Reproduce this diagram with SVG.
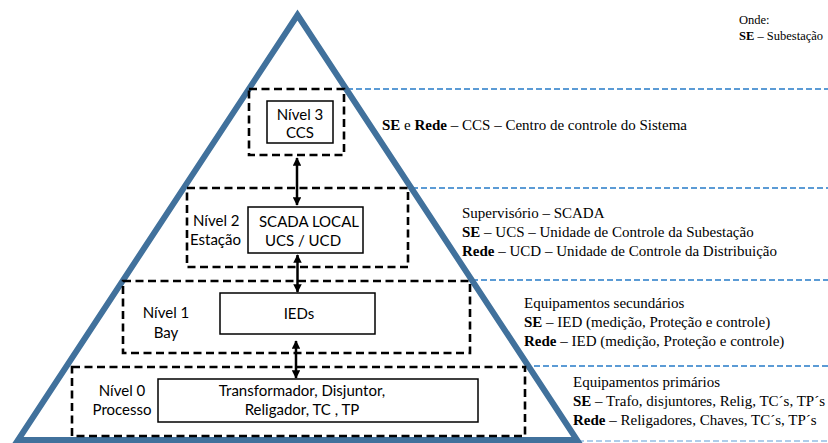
<svg xmlns="http://www.w3.org/2000/svg" width="828" height="443" viewBox="0 0 828 443">
  <style>
    .level { fill: none; stroke: #000; stroke-width: 2.6; stroke-dasharray: 8 4.5; }
    .box { fill: #fff; stroke: #000; stroke-width: 1.5; }
    .guide { fill: none; stroke: #5b9bd5; stroke-width: 2; stroke-dasharray: 6 3; }
    .lbl { font-family: Lato, "Open Sans", sans-serif; font-size: 15px; fill: #000; }
    .desc { font-family: "Liberation Serif", "Times New Roman", serif; font-size: 15px; fill: #000; }
    .note { font-family: "Liberation Serif", "Times New Roman", serif; font-size: 12.5px; fill: #000; }
    .b { font-weight: bold; }
    .link { stroke: #000; stroke-width: 2.5; fill: none; }
  </style>
  <defs>
    <marker id="head" viewBox="0 0 10 10" refX="9" refY="5" markerWidth="3.4" markerHeight="3.4" orient="auto-start-reverse" markerUnits="strokeWidth">
      <path d="M0,0 L10,5 L0,10 Z" fill="#000"/>
    </marker>
  </defs>
  <rect width="828" height="443" fill="#fff"/>

  <!-- level separators running off to the right -->
  <g id="guides">
    <line class="guide" x1="347" y1="89" x2="828" y2="89"/>
    <line class="guide" x1="412" y1="188" x2="828" y2="188"/>
    <line class="guide" x1="472" y1="280" x2="828" y2="280"/>
    <line class="guide" x1="525" y1="366" x2="828" y2="366"/>
    <line class="guide" x1="578" y1="441" x2="828" y2="441" stroke-opacity="0.5"/>
  </g>

  <!-- pyramid -->
  <g id="pyramid">
    <path d="M297.5,15 L577,440 L18,440 Z" fill="none" stroke="#41719c" stroke-width="6" stroke-linejoin="miter"/>
  </g>

  <g id="nivel3">
    <rect class="level" x="249" y="89" width="95" height="66"/>
    <rect class="box" x="267" y="101" width="66" height="42"/>
    <text class="lbl" x="300" y="120" text-anchor="middle">Nível 3</text>
    <text class="lbl" x="300" y="138" text-anchor="middle">CCS</text>
  </g>

  <g id="nivel2">
    <rect class="level" x="187" y="188" width="221" height="79"/>
    <rect class="box" x="248" y="207" width="115" height="46"/>
    <text class="lbl" x="193" y="226">Nível 2</text>
    <text class="lbl" x="190" y="245">Estação</text>
    <text class="lbl" x="309" y="227" text-anchor="middle">SCADA LOCAL</text>
    <text class="lbl" x="303" y="246" text-anchor="middle">UCS / UCD</text>
  </g>

  <g id="nivel1">
    <rect class="level" x="123" y="281" width="347" height="72"/>
    <rect class="box" x="220" y="293" width="155" height="41"/>
    <text class="lbl" x="166" y="318" text-anchor="middle">Nível 1</text>
    <text class="lbl" x="166" y="338" text-anchor="middle">Bay</text>
    <text class="lbl" x="299" y="319" text-anchor="middle">IEDs</text>
  </g>

  <g id="nivel0">
    <rect class="level" x="72" y="367" width="453" height="69"/>
    <rect class="box" x="158" y="379" width="320" height="43"/>
    <text class="lbl" x="122" y="396" text-anchor="middle">Nível 0</text>
    <text class="lbl" x="122" y="415" text-anchor="middle">Processo</text>
    <text class="lbl" x="302" y="396" text-anchor="middle" font-size="16">Transformador, Disjuntor,</text>
    <text class="lbl" x="302" y="415" text-anchor="middle" font-size="16">Religador, TC , TP</text>
  </g>

  <!-- links between levels -->
  <g id="connectors">
    <line class="link" x1="297" y1="158" x2="297" y2="205" marker-start="url(#head)" marker-end="url(#head)"/>
    <line class="link" x1="297.5" y1="255" x2="297.5" y2="292" marker-start="url(#head)" marker-end="url(#head)"/>
    <line class="link" x1="296" y1="341" x2="296" y2="378" marker-start="url(#head)" marker-end="url(#head)"/>
  </g>

  <!-- legend and descriptions -->
  <g id="legend">
    <text class="note" x="739" y="24">Onde:</text>
    <text class="note" x="739" y="40"><tspan class="b">SE</tspan> – Subestação</text>
  </g>

  <g id="desc3">
    <text class="desc" x="382" y="130"><tspan class="b">SE</tspan> e <tspan class="b">Rede</tspan> – CCS – Centro de controle do Sistema</text>
  </g>

  <g id="desc2">
    <text class="desc" x="462" y="218">Supervisório  – SCADA</text>
    <text class="desc" x="462" y="237"><tspan class="b">SE</tspan> – UCS – Unidade de Controle da Subestação</text>
    <text class="desc" x="462" y="256"><tspan class="b">Rede</tspan> – UCD – Unidade de Controle da Distribuição</text>
  </g>

  <g id="desc1">
    <text class="desc" x="524" y="308">Equipamentos  secundários</text>
    <text class="desc" x="524" y="327"><tspan class="b">SE</tspan> – IED (medição,  Proteção e controle)</text>
    <text class="desc" x="524" y="346"><tspan class="b">Rede</tspan> – IED (medição,  Proteção  e controle)</text>
  </g>

  <g id="desc0">
    <text class="desc" x="573" y="387">Equipamentos  primários</text>
    <text class="desc" x="573" y="406"><tspan class="b">SE</tspan> – Trafo, disjuntores,  Relig, TC´s, TP´s</text>
    <text class="desc" x="573" y="425"><tspan class="b">Rede</tspan> –  Religadores,  Chaves, TC´s, TP´s</text>
  </g>
</svg>
